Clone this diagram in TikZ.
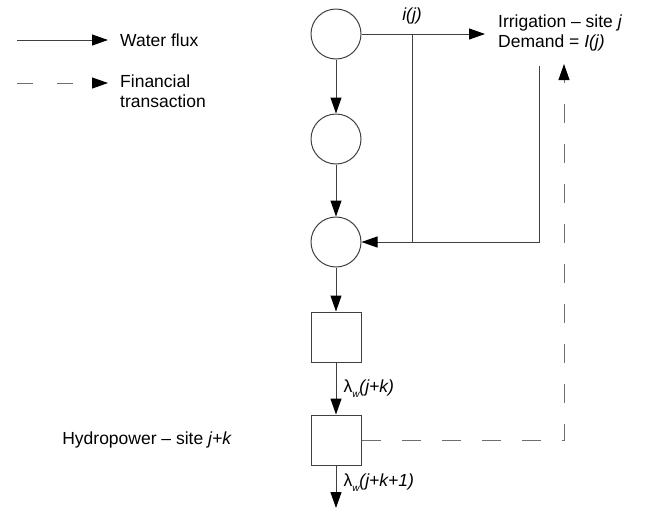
\documentclass[tikz,border=0pt]{standalone}
\usepackage{fontspec}
\setmainfont{Liberation Sans}
\usetikzlibrary{arrows.meta,positioning,calc}
\definecolor{flowgray}{RGB}{64,64,64}
\definecolor{cashgray}{RGB}{110,110,110}

\begin{document}
\begin{tikzpicture}[x=1pt, y=-1pt, >={Triangle[length=16pt,width=11pt,fill=black,color=black]},
    font=\fontsize{17.5}{20.5}\selectfont,
    reservoir/.style={circle, draw=flowgray, line width=1pt, minimum size=50pt, inner sep=0pt},
    plant/.style={rectangle, draw=flowgray, line width=1pt, minimum size=50pt, inner sep=0pt},
    water/.style={->, draw=flowgray, line width=1pt},
    money/.style={->, draw=cashgray, line width=1pt, dash pattern=on 19pt off 21pt},
    tag/.style={inner sep=0pt, align=left}]
  \useasboundingbox (0,0) rectangle (648,515);

  % legend
  \coordinate (lwater) at (17,40);
  \coordinate (lcash) at (17,83);
  \node[tag, anchor=west] (wflux) at (120,40) {Water flux};
  \node[tag, anchor=west] (ftrans) at (120,91) {Financial\\transaction};
  \draw[water, shorten >=12pt] (lwater) -- (wflux.west |- lwater);
  \draw[money, dash pattern=on 16pt off 24pt, shorten >=12pt] (lcash) -- (ftrans.west |- lcash);

  % chain of sites
  \node[reservoir] (res1) at (336,34) {};
  \node[reservoir] (res2) at (336,139) {};
  \node[reservoir] (res3) at (336,242) {};
  \node[plant] (plant1) at (336,337) {};
  \node[plant] (hydro) at (336,440) {};
  \coordinate (outlet) at (336,508);

  \node[tag, anchor=west] (irrig) at (498,33) {Irrigation -- site \textit{j}\\Demand = \textit{I(j)}};
  \node[tag, anchor=east] (hplab) at (232,440) {Hydropower -- site \textit{j+k}};

  \draw[water] (res1) -- (res2);
  \draw[water] (res2) -- (res3);
  \draw[water] (res3) -- (plant1);
  \draw[water] (plant1) -- node[tag, right=7pt] (lam1) {λ\raisebox{-5pt}{\fontsize{10}{10}\selectfont\itshape w}\textit{(j+k)}} (hydro);
  \draw[water] (hydro) -- node[tag, right=7pt, yshift=4pt] (lam2) {λ\raisebox{-5pt}{\fontsize{10}{10}\selectfont\itshape w}\textit{(j+k+1)}} (outlet);

  % irrigation withdrawal and return
  \coordinate (split) at (412,34);
  \coordinate (back) at (539,66);
  \draw[water, shorten >=13pt] (res1) -- (irrig.west |- res1);
  \node[tag, above=10pt] (ilab) at (split) {\textit{i(j)}};
  \draw[flowgray, line width=1pt] (split) -- (split |- res3);
  \draw[water] (back) -- (back |- res3) -- (res3);

  % payment
  \coordinate (pay) at (564,64);
  \draw[money] (hydro) -- (pay |- hydro) -- (pay);
\end{tikzpicture}
\end{document}
